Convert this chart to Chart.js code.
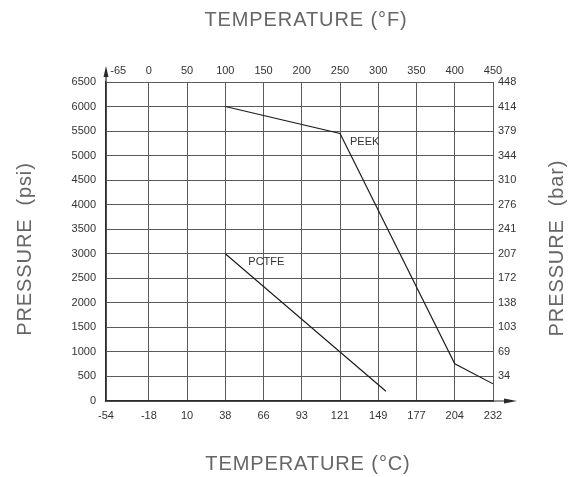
<!DOCTYPE html>
<html>
<head>
<meta charset="utf-8">
<script src="https://cdn.jsdelivr.net/npm/chart.js@4.4.1/dist/chart.umd.min.js"></script>
<style>
  html, body { margin: 0; padding: 0; background: #fff; }
  #wrap { width: 572px; height: 477px; }
</style>
</head>
<body>
<div id="wrap"><canvas id="chart" width="572" height="477"></canvas></div>
<script>
// x runs in °F; the first gap (-65 .. 0) is drawn shorter than scale, left edge sits at about -56
const xLeftF = -56;
const tempTicksF = [xLeftF, 0, 50, 100, 150, 200, 250, 300, 350, 400, 450];
const tempLabelsF = ['        -65', '0', '50', '100', '150', '200', '250', '300', '350', '400', '450'];
const tempLabelsC = ['-54', '-18', '10', '38', '66', '93', '121', '149', '177', '204', '232'];

const psiTicks = [0, 500, 1000, 1500, 2000, 2500, 3000, 3500, 4000, 4500, 5000, 5500, 6000, 6500];
const barLabels = ['', '34', '69', '103', '138', '172', '207', '241', '276', '310', '344', '379', '414', '448'];

// ratings, temperature in °F, pressure in psi
const peekTemp = [100, 250, 400, 450];
const peekPsi = [6000, 5450, 760, 350];
const pctfeTemp = [100, 250, 310];
const pctfePsi = [3000, 1000, 200];

const fontFam = '"Liberation Sans", Arial, sans-serif';
const tickFont = { family: fontFam, size: 11 };
const gridColor = '#5a5a5a';
const axisColor = '#2a2a2a';

const toPoints = (xs, ys) => xs.map((x, i) => ({ x: x, y: ys[i] }));

const decorPlugin = {
    id: 'decor',
    afterDraw(chart) {
        const ctx = chart.ctx;
        const a = chart.chartArea;
        const sx = chart.scales.x, sy = chart.scales.y;
        ctx.save();

        // axis arrows
        ctx.strokeStyle = axisColor;
        ctx.fillStyle = axisColor;
        ctx.lineWidth = 1.2;
        ctx.beginPath();
        ctx.moveTo(a.left, a.top);
        ctx.lineTo(a.left, a.top - 8);
        ctx.moveTo(a.right, a.bottom);
        ctx.lineTo(a.right + 14, a.bottom);
        ctx.stroke();
        ctx.beginPath();
        ctx.moveTo(a.left, a.top - 16);
        ctx.lineTo(a.left - 2.5, a.top - 5);
        ctx.lineTo(a.left + 2.5, a.top - 5);
        ctx.closePath();
        ctx.fill();
        ctx.beginPath();
        ctx.moveTo(a.right + 24, a.bottom);
        ctx.lineTo(a.right + 11, a.bottom - 2.5);
        ctx.lineTo(a.right + 11, a.bottom + 2.5);
        ctx.closePath();
        ctx.fill();

        // axis titles
        ctx.fillStyle = '#666';
        ctx.font = '20px ' + fontFam;
        ctx.letterSpacing = '0.9px';
        ctx.textAlign = 'center';
        ctx.textBaseline = 'middle';
        ctx.fillText('TEMPERATURE (°F)', 306, 20);
        ctx.fillText('TEMPERATURE (°C)', 308, 464);
        ctx.save();
        ctx.translate(25, 249);
        ctx.rotate(-Math.PI / 2);
        ctx.fillText('PRESSURE  (psi)', 0, 0);
        ctx.restore();
        ctx.save();
        ctx.translate(557, 248);
        ctx.rotate(-Math.PI / 2);
        ctx.fillText('PRESSURE  (bar)', 0, 0);
        ctx.restore();
        ctx.letterSpacing = '0px';

        // series labels
        ctx.fillStyle = '#333';
        ctx.font = '11px ' + fontFam;
        ctx.textAlign = 'left';
        ctx.fillText('PEEK', sx.getPixelForValue(peekTemp[1]) + 10, sy.getPixelForValue(peekPsi[1]) + 8);
        ctx.fillText('PCTFE', sx.getPixelForValue(pctfeTemp[0]) + 23, sy.getPixelForValue(pctfePsi[0]) + 8);
        ctx.restore();
    }
};

new Chart(document.getElementById('chart'), {
    type: 'line',
    data: {
        datasets: [
            { label: 'PEEK', data: toPoints(peekTemp, peekPsi), borderColor: '#1e1e1e', borderWidth: 1.2, pointRadius: 0, tension: 0, xAxisID: 'x', yAxisID: 'y' },
            { label: 'PCTFE', data: toPoints(pctfeTemp, pctfePsi), borderColor: '#1e1e1e', borderWidth: 1.2, pointRadius: 0, tension: 0, xAxisID: 'x', yAxisID: 'y' }
        ]
    },
    options: {
        responsive: false,
        animation: false,
        layout: { padding: 0 },
        plugins: { legend: { display: false }, tooltip: { enabled: false } },
        scales: {
            x: {
                type: 'linear', position: 'bottom', min: xLeftF, max: 450,
                afterBuildTicks: s => { s.ticks = tempTicksF.map(v => ({ value: v })); },
                afterFit: s => { s.height = 76; },
                ticks: { autoSkip: false, maxRotation: 0, padding: 8, color: '#333', font: tickFont, callback: (v, i) => tempLabelsC[i] },
                grid: { color: gridColor, lineWidth: 1, drawTicks: false },
                border: { color: axisColor, width: 1.2 }
            },
            x2: {
                type: 'linear', position: 'top', min: xLeftF, max: 450,
                afterBuildTicks: s => { s.ticks = tempTicksF.map(v => ({ value: v })); },
                afterFit: s => { s.height = 82; },
                ticks: { autoSkip: false, maxRotation: 0, padding: 4, color: '#333', font: tickFont, callback: (v, i) => tempLabelsF[i] },
                grid: { display: false, drawTicks: false },
                border: { color: gridColor, width: 1 }
            },
            y: {
                type: 'linear', position: 'left', min: 0, max: 6500,
                afterBuildTicks: s => { s.ticks = psiTicks.map(v => ({ value: v })); },
                afterFit: s => { s.width = 106; },
                ticks: { padding: 10, color: '#333', font: tickFont, callback: (v, i) => String(psiTicks[i]) },
                grid: { color: gridColor, lineWidth: 1, drawTicks: false },
                border: { color: axisColor, width: 1.2 }
            },
            y2: {
                type: 'linear', position: 'right', min: 0, max: 6500,
                afterBuildTicks: s => { s.ticks = psiTicks.map(v => ({ value: v })); },
                afterFit: s => { s.width = 79; },
                ticks: { padding: 5, color: '#333', font: tickFont, callback: (v, i) => barLabels[i] },
                grid: { display: false, drawTicks: false },
                border: { color: gridColor, width: 1 }
            }
        }
    },
    plugins: [decorPlugin]
});
</script>
</body>
</html>
